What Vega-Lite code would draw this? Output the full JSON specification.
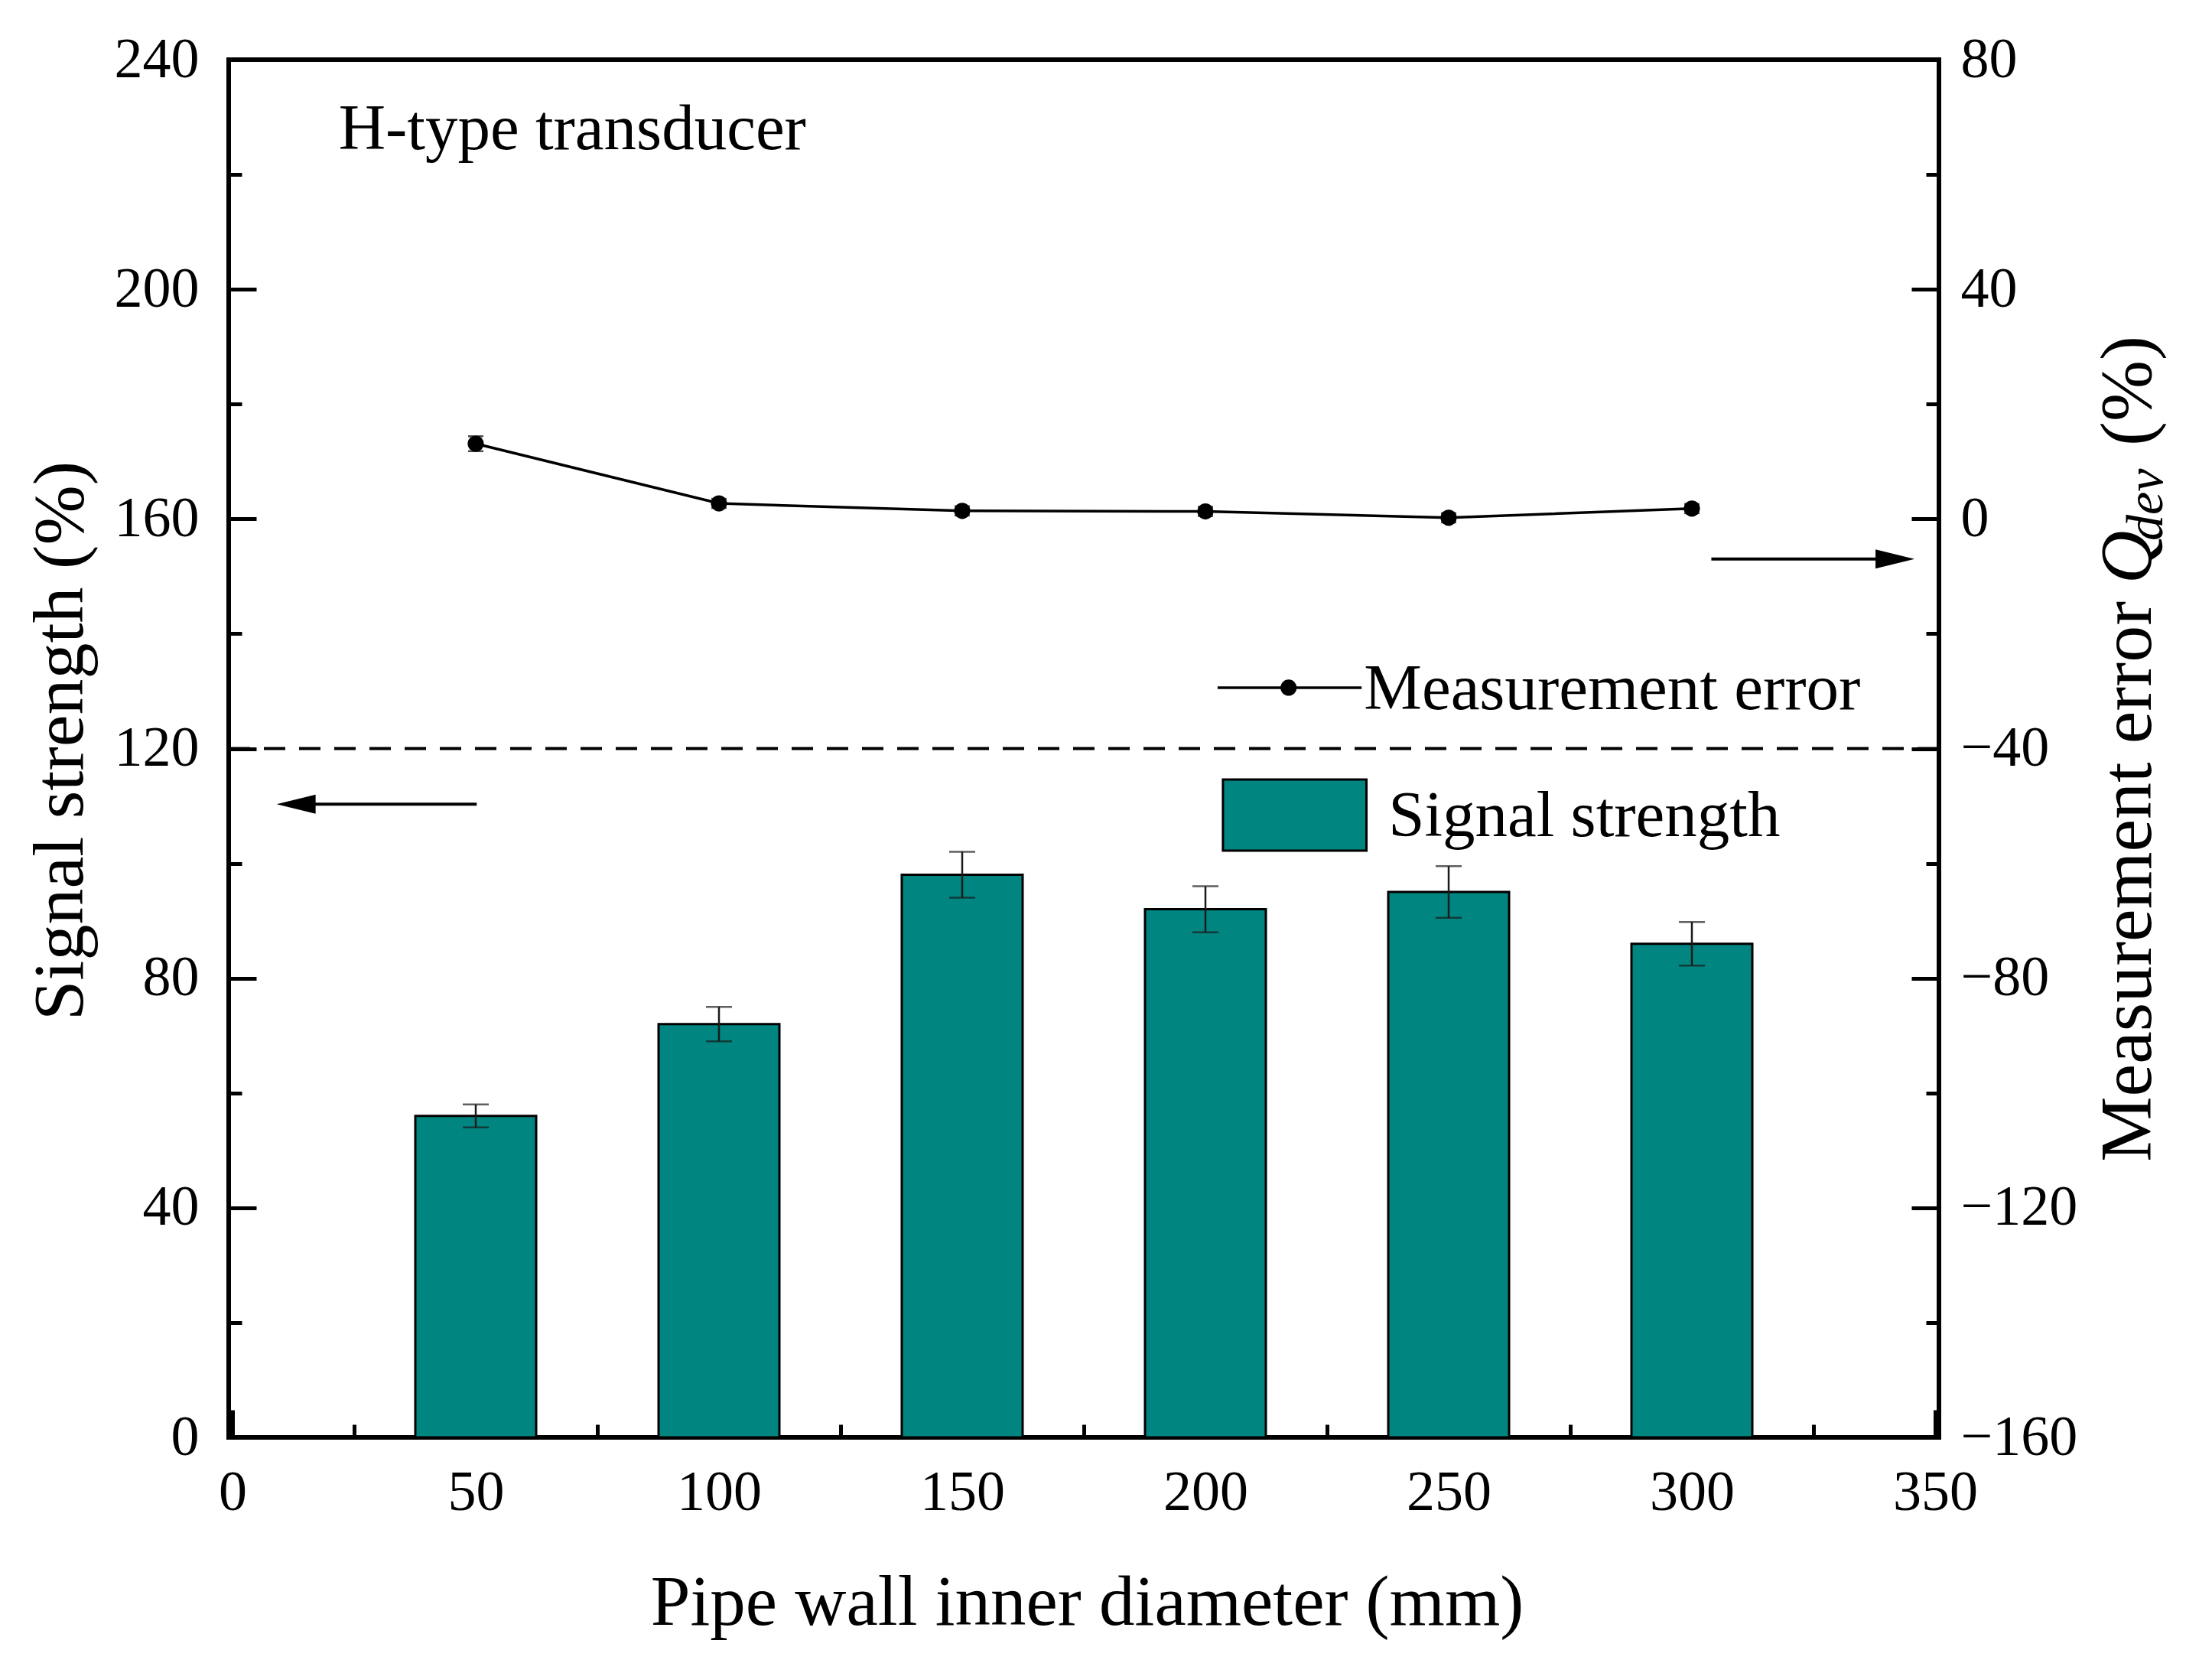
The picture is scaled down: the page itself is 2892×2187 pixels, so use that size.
{
  "$schema": "https://vega.github.io/schema/vega-lite/v6.json",
  "width": 2236,
  "height": 1801,
  "autosize": {"type": "none"},
  "padding": {"left": 299, "top": 78, "right": 357, "bottom": 308},
  "background": "white",
  "datasets": {
    "signal": [
      {"d": 50, "s": 56, "e": 2},
      {"d": 100, "s": 72, "e": 3},
      {"d": 150, "s": 98, "e": 4},
      {"d": 200, "s": 92, "e": 4},
      {"d": 250, "s": 95, "e": 4.5},
      {"d": 300, "s": 86, "e": 3.8}
    ],
    "error": [
      {"d": 50, "q": 13.1, "qe": 1.3},
      {"d": 100, "q": 2.7, "qe": 0.8},
      {"d": 150, "q": 1.4, "qe": 0.8},
      {"d": 200, "q": 1.3, "qe": 0.8},
      {"d": 250, "q": 0.2, "qe": 0.8},
      {"d": 300, "q": 1.8, "qe": 0.8}
    ]
  },
  "layer": [
    {
      "resolve": {"axis": {"x": "independent", "y": "independent"}},
      "layer": [
        {
          "data": {"name": "signal"},
          "mark": {"type": "bar", "width": 158, "color": "#008580", "stroke": "black", "strokeWidth": 3},
          "encoding": {
            "x": {
              "field": "d",
              "type": "quantitative",
              "scale": {"domain": [0, 350], "nice": false, "zero": false},
              "axis": {
                "orient": "bottom",
                "values": [0, 50, 100, 150, 200, 250, 300, 350],
                "tickSize": -36,
                "labelPadding": 72,
                "labelFlush": false,
                "labelOverlap": false,
                "title": "Pipe wall inner diameter (mm)",
                "titleFontSize": 93,
                "titleX": 1122,
                "titleY": 244,
                "titleAlign": "center",
                "titleBaseline": "alphabetic"
              }
            },
            "y": {
              "field": "s",
              "type": "quantitative",
              "scale": {"domain": [0, 240], "nice": false},
              "axis": {
                "orient": "left",
                "values": [0, 40, 80, 120, 160, 200, 240],
                "tickSize": -36,
                "labelPadding": 75,
                "labelOverlap": false,
                "title": "Signal strength (%)",
                "titleFontSize": 94,
                "titleAngle": 270,
                "titleX": -192,
                "titleY": 890,
                "titleAlign": "center",
                "titleBaseline": "alphabetic"
              }
            }
          }
        },
        {
          "data": {"name": "signal"},
          "mark": {"type": "errorbar", "color": "#1a1a1a", "ticks": {"size": 34, "thickness": 2.5}, "rule": {"strokeWidth": 2.5}},
          "encoding": {
            "x": {"field": "d", "type": "quantitative", "axis": null},
            "y": {
              "field": "s",
              "type": "quantitative",
              "axis": {"orient": "left", "values": [20, 60, 100, 140, 180, 220], "tickSize": -17, "labels": false, "title": null}
            },
            "yError": {"field": "e"}
          }
        },
        {
          "data": {"values": [{}]},
          "mark": {"type": "rule", "color": "black", "strokeWidth": 4, "strokeDash": [28, 18]},
          "encoding": {"y": {"datum": 120, "axis": null}}
        },
        {
          "data": {"values": [{}]},
          "mark": {"type": "rule", "color": "black", "strokeWidth": 4},
          "encoding": {
            "x": {"datum": 50.2, "axis": null},
            "x2": {"datum": 12},
            "y": {"datum": 110.3, "axis": null}
          }
        },
        {
          "data": {"values": [{}]},
          "mark": {"type": "point", "shape": "M -1 0 L 1 -0.49 L 1 0.49 Z", "size": 2601, "filled": true, "color": "black", "opacity": 1},
          "encoding": {
            "x": {"datum": 13.07, "axis": null},
            "y": {"datum": 110.3, "axis": null}
          }
        },
        {
          "data": {"values": [{}]},
          "mark": {"type": "rule", "color": "black", "strokeWidth": 4},
          "encoding": {
            "x": {"datum": 304, "axis": null},
            "x2": {"datum": 340},
            "y": {"datum": 153, "axis": null}
          }
        },
        {
          "data": {"values": [{}]},
          "mark": {"type": "point", "shape": "M 1 0 L -1 -0.49 L -1 0.49 Z", "size": 2601, "filled": true, "color": "black", "opacity": 1},
          "encoding": {
            "x": {"datum": 341.76, "axis": null},
            "y": {"datum": 153, "axis": null}
          }
        },
        {
          "data": {"values": [{}]},
          "mark": {"type": "rule", "color": "black", "strokeWidth": 3.5},
          "encoding": {
            "x": {"datum": 202.5, "axis": null},
            "x2": {"datum": 232.1},
            "y": {"datum": 130.6, "axis": null}
          }
        },
        {
          "data": {"values": [{}]},
          "mark": {"type": "point", "size": 450, "filled": true, "color": "black", "opacity": 1},
          "encoding": {
            "x": {"datum": 217.1, "axis": null},
            "y": {"datum": 130.6, "axis": null}
          }
        },
        {
          "data": {"values": [{}]},
          "mark": {"type": "rect", "color": "#008580", "stroke": "black", "strokeWidth": 3},
          "encoding": {
            "x": {"datum": 203.6, "axis": null},
            "x2": {"datum": 233.1},
            "y": {"datum": 114.6, "axis": null},
            "y2": {"datum": 102.2}
          }
        },
        {
          "data": {"values": [{}]},
          "mark": {"type": "text", "text": "Measurement error", "fontSize": 85, "align": "left", "baseline": "alphabetic"},
          "encoding": {
            "x": {"datum": 232.6, "axis": null},
            "y": {"datum": 126.9, "axis": null}
          }
        },
        {
          "data": {"values": [{}]},
          "mark": {"type": "text", "text": "Signal strength", "fontSize": 85, "align": "left", "baseline": "alphabetic"},
          "encoding": {
            "x": {"datum": 237.6, "axis": null},
            "y": {"datum": 104.7, "axis": null}
          }
        },
        {
          "data": {"values": [{}]},
          "mark": {"type": "text", "text": "H-type transducer", "fontSize": 85, "align": "left", "baseline": "alphabetic"},
          "encoding": {
            "x": {"datum": 21.8, "axis": null},
            "y": {"datum": 224.4, "axis": null}
          }
        }
      ]
    },
    {
      "resolve": {"axis": {"x": "independent", "y": "independent"}},
      "layer": [
        {
          "data": {"name": "error"},
          "mark": {"type": "line", "color": "black", "strokeWidth": 3.5, "point": {"size": 450, "filled": true, "color": "black", "opacity": 1}},
          "encoding": {
            "x": {
              "field": "d",
              "type": "quantitative",
              "scale": {"domain": [0, 350], "nice": false, "zero": false},
              "axis": {"orient": "bottom", "values": [25, 75, 125, 175, 225, 275, 325], "tickSize": -17, "labels": false, "title": null}
            },
            "y": {
              "field": "q",
              "type": "quantitative",
              "scale": {"domain": [-160, 80], "nice": false, "zero": false},
              "axis": {
                "orient": "right",
                "values": [-160, -120, -80, -40, 0, 40, 80],
                "tickSize": -36,
                "labelPadding": 64,
                "labelOverlap": false,
                "title": null
              }
            }
          }
        },
        {
          "data": {"name": "error"},
          "mark": {"type": "errorbar", "color": "black", "ticks": {"size": 20, "thickness": 2.5}, "rule": {"strokeWidth": 2.5}},
          "encoding": {
            "x": {"field": "d", "type": "quantitative", "axis": null},
            "y": {
              "field": "q",
              "type": "quantitative",
              "axis": {"orient": "right", "values": [-140, -100, -60, -20, 20, 60], "tickSize": -17, "labels": false, "title": null}
            },
            "yError": {"field": "qe"}
          }
        },
        {
          "data": {"values": [{}]},
          "mark": {"type": "text", "text": "Measurement error", "fontSize": 96, "angle": 270, "align": "left", "baseline": "alphabetic"},
          "encoding": {
            "x": {"datum": 394.27, "axis": null},
            "y": {"datum": -112, "axis": null}
          }
        },
        {
          "data": {"values": [{}]},
          "mark": {"type": "text", "text": "Q", "fontSize": 96, "fontStyle": "italic", "angle": 270, "align": "left", "baseline": "alphabetic"},
          "encoding": {
            "x": {"datum": 394.27, "axis": null},
            "y": {"datum": -11.28, "axis": null}
          }
        },
        {
          "data": {"values": [{}]},
          "mark": {"type": "text", "text": "dev", "fontSize": 68, "fontStyle": "italic", "angle": 270, "align": "left", "baseline": "alphabetic"},
          "encoding": {
            "x": {"datum": 396.62, "axis": null},
            "y": {"datum": -3.82, "axis": null}
          }
        },
        {
          "data": {"values": [{}]},
          "mark": {"type": "text", "text": "(%)", "fontSize": 96, "angle": 270, "align": "left", "baseline": "alphabetic"},
          "encoding": {
            "x": {"datum": 394.27, "axis": null},
            "y": {"datum": 12.71, "axis": null}
          }
        }
      ]
    }
  ],
  "resolve": {
    "scale": {"y": "independent"},
    "axis": {"x": "independent", "y": "independent"}
  },
  "config": {
    "view": {"stroke": "black", "strokeWidth": 6},
    "font": "Liberation Serif",
    "text": {"font": "Liberation Serif", "color": "black"},
    "axis": {
      "domain": false,
      "grid": false,
      "ticks": true,
      "tickColor": "black",
      "tickWidth": 5,
      "labelFont": "Liberation Serif",
      "labelFontSize": 74,
      "labelColor": "black",
      "titleFont": "Liberation Serif",
      "titleFontSize": 96,
      "titleFontWeight": "normal",
      "titleColor": "black"
    }
  }
}
